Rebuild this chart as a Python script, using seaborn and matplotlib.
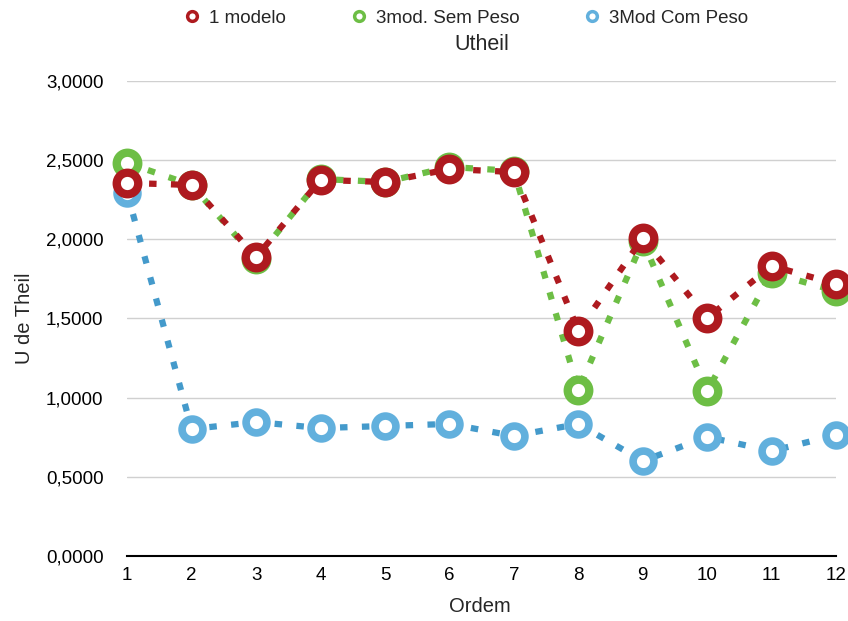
import matplotlib
matplotlib.use("Agg")
import matplotlib.pyplot as plt
import matplotlib.ticker as mticker
from matplotlib.lines import Line2D
import seaborn as sns
import pandas as pd

ordem = [1, 2, 3, 4, 5, 6, 7, 8, 9, 10, 11, 12]
um_modelo = [2.356, 2.343, 1.888, 2.375, 2.362, 2.444, 2.425, 1.421, 2.008, 1.503, 1.832, 1.718]
sem_peso = [2.482, 2.343, 1.876, 2.381, 2.362, 2.457, 2.432, 1.048, 1.989, 1.042, 1.787, 1.674]
com_peso = [2.293, 0.802, 0.846, 0.808, 0.821, 0.834, 0.758, 0.834, 0.600, 0.752, 0.663, 0.764]
series_names = ["1 modelo", "3mod. Sem Peso", "3Mod Com Peso"]
colors = {"1 modelo": "#AE1A1F", "3mod. Sem Peso": "#6DBE45", "3Mod Com Peso": "#62B0DD"}
line_colors = {"1 modelo": "#AE1A1F", "3mod. Sem Peso": "#6DBE45", "3Mod Com Peso": "#449ACB"}

df = pd.DataFrame({
    "Ordem": ordem * 3,
    "U de Theil": um_modelo + sem_peso + com_peso,
    "serie": [series_names[0]] * 12 + [series_names[1]] * 12 + [series_names[2]] * 12,
})

sns.set_theme(style="white")
plt.rcParams["font.family"] = ["Liberation Sans", "DejaVu Sans"]

fig = plt.figure(figsize=(8.48, 6.21), dpi=100)
ax = fig.add_axes([0.150, 0.1047, 0.836, 0.7649])

draw_order = ["3Mod Com Peso", "3mod. Sem Peso", "1 modelo"]
for z, name in enumerate(draw_order):
    sub = df[df["serie"] == name]
    sns.lineplot(data=sub, x="Ordem", y="U de Theil", ax=ax, color=line_colors[name],
                 linewidth=4.5, linestyle=(0, (1.2, 2.3)), legend=False,
                 zorder=3 + 2 * z, clip_on=False)
    ax.plot(sub["Ordem"], sub["U de Theil"], linestyle="none", marker="o",
            markersize=15.5 if name != "3Mod Com Peso" else 15.0,
            markeredgewidth=6.0 if name != "3Mod Com Peso" else 5.5,
            markeredgecolor=colors[name], markerfacecolor="white",
            zorder=4 + 2 * z, clip_on=False)

ax.set_xlim(1, 12)
ax.set_ylim(0, 3.0)
ax.set_xticks(ordem)
ax.set_yticks([0, 0.5, 1.0, 1.5, 2.0, 2.5, 3.0])
ax.yaxis.set_major_formatter(mticker.FuncFormatter(lambda v, p: f"{v:.4f}".replace(".", ",")))
ax.grid(axis="y", color="#D0D0D0", linewidth=1)
ax.grid(axis="x", visible=False)
for s in ["left", "right", "top"]:
    ax.spines[s].set_visible(False)
ax.spines["bottom"].set_color("black")
ax.spines["bottom"].set_linewidth(1.5)
ax.tick_params(axis="both", length=0, labelsize=13.5, colors="black")
ax.tick_params(axis="x", pad=8)
ax.tick_params(axis="y", pad=17)
ax.set_xlabel("Ordem", fontsize=14.5, va="center")
ax.set_ylabel("U de Theil", fontsize=14.5, va="center")
ax.xaxis.set_label_coords(0.497, -0.107)
ax.yaxis.set_label_coords(-0.145, 0.5)
fig.text(482 / 848, 1 - 45 / 621, "Utheil", ha="center", va="center", fontsize=15.5)

handles = [Line2D([0], [0], color=colors[n], marker="o", markersize=7, markeredgewidth=2.5,
                  markerfacecolor="white", linestyle="none") for n in series_names]
fig.legend(handles, series_names, loc="center", bbox_to_anchor=(0.549, 0.971), ncol=3,
           frameon=False, fontsize=13.5, columnspacing=3.4, handletextpad=0.4, handlelength=1.0)

fig.savefig("out.png", dpi=100)
